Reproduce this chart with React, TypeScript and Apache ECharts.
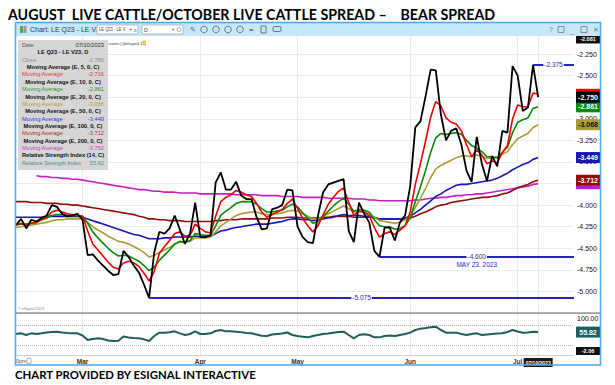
import React, { useEffect, useRef } from "react";
import * as echarts from "echarts";

const FONT = "'Liberation Sans', 'DejaVu Sans', Arial, sans-serif";
const MONTH_NAMES = ["Jan", "Feb", "Mar", "Apr", "May", "Jun", "Jul", "Aug", "Sep", "Oct", "Nov", "Dec"];

// trading days shown on the chart (month, days)
const TRADING_DAYS: [number, number[]][] = [
  [2, [9, 10, 13, 14, 15, 16, 17, 21, 22, 23, 24, 27, 28]],
  [3, [1, 2, 3, 6, 7, 8, 9, 10, 13, 14, 15, 16, 17, 20, 21, 22, 23, 24, 27, 28, 29, 30, 31]],
  [4, [3, 4, 5, 6, 10, 11, 12, 13, 14, 17, 18, 19, 20, 21, 24, 25, 26, 27, 28]],
  [5, [1, 2, 3, 4, 5, 8, 9, 10, 11, 12, 15, 16, 17, 18, 19, 22, 23, 24, 25, 26, 30, 31]],
  [6, [1, 2, 5, 6, 7, 8, 9, 12, 13, 14, 15, 16, 20, 21, 22, 23, 26, 27, 28, 29, 30]],
  [7, [3, 5, 6, 7, 10, 11, 12, 13, 14, 17, 18, 19]],
];
const CATEGORIES: string[] = TRADING_DAYS.flatMap(([m, days]) =>
  days.map((d) => `${String(m).padStart(2, "0")}/${String(d).padStart(2, "0")}/2023`)
);

const CLOSE = [
  -4.23, -4.16, -4.27, -4.17, -4.19, -4.15, -4.12, -4.0, -4.02, -4.1,
  -4.13, -4.12, -4.1, -4.17, -4.58, -4.57, -4.64, -4.7, -4.76, -4.81,
  -4.8, -4.53, -4.6, -4.7, -4.78, -4.92, -5.075, -4.55, -4.31, -4.33,
  -4.27, -4.12, -4.28, -4.45, -4.33, -3.97, -4.37, -4.37, -4.35, -3.74,
  -3.62, -3.82, -3.82, -3.73, -3.89, -3.93, -3.93, -4.14, -4.28, -4.27,
  -4.05, -4.03, -4.0, -3.82, -3.83, -4.25, -4.37, -4.43, -4.44, -4.12,
  -3.85, -3.76, -3.74, -3.72, -3.7, -4.3, -4.43, -3.97, -4.1, -4.2,
  -4.53, -4.6, -4.26, -4.26, -4.41, -4.2, -4.12, -3.78, -3.1, -3.03,
  -2.74, -2.43, -2.44, -2.95, -3.25, -3.14, -3.11, -3.3, -3.6, -3.73,
  -3.21, -3.52, -3.72, -3.43, -3.55, -3.14, -3.16, -2.39, -2.5, -2.91,
  -2.87, -2.375, -2.75,
];
const EMA5 = [
  -4.23, -4.21, -4.23, -4.21, -4.2, -4.17, -4.14, -4.08, -4.06, -4.08,
  -4.1, -4.11, -4.12, -4.13, -4.3, -4.45, -4.52, -4.59, -4.66, -4.72,
  -4.74, -4.67, -4.65, -4.67, -4.71, -4.79, -4.88, -4.77, -4.56, -4.48,
  -4.41, -4.33, -4.31, -4.36, -4.35, -4.22, -4.27, -4.31, -4.32, -4.13,
  -3.96, -3.91, -3.88, -3.83, -3.85, -3.88, -3.9, -3.98, -4.08, -4.14,
  -4.11, -4.08, -4.05, -3.98, -3.93, -4.04, -4.15, -4.24, -4.31, -4.24,
  -4.11, -3.99, -3.91, -3.84, -3.8, -3.97, -4.12, -4.07, -4.08, -4.12,
  -4.26, -4.37, -4.33, -4.31, -4.34, -4.29, -4.24, -4.08, -3.76, -3.52,
  -3.26, -2.98, -2.8, -2.85, -2.99, -3.04, -3.06, -3.14, -3.3, -3.44,
  -3.36, -3.42, -3.52, -3.49, -3.51, -3.39, -3.31, -3.0, -2.84, -2.86,
  -2.86, -2.7, -2.716,
];
const EMA10 = [
  -4.23, -4.22, -4.22, -4.21, -4.2, -4.17, -4.15, -4.12, -4.11, -4.11,
  -4.12, -4.12, -4.12, -4.13, -4.21, -4.31, -4.38, -4.44, -4.5, -4.55,
  -4.59, -4.58, -4.59, -4.62, -4.65, -4.7, -4.76, -4.72, -4.64, -4.58,
  -4.52, -4.45, -4.42, -4.43, -4.41, -4.33, -4.34, -4.35, -4.35, -4.24,
  -4.12, -4.07, -4.03, -3.98, -3.96, -3.96, -3.96, -3.99, -4.04, -4.08,
  -4.08, -4.07, -4.06, -4.02, -3.99, -4.02, -4.09, -4.15, -4.21, -4.19,
  -4.13, -4.07, -4.01, -3.96, -3.92, -3.99, -4.07, -4.05, -4.06, -4.08,
  -4.17, -4.24, -4.25, -4.25, -4.28, -4.27, -4.24, -4.15, -3.96, -3.79,
  -3.6, -3.39, -3.22, -3.17, -3.18, -3.17, -3.16, -3.18, -3.25, -3.31,
  -3.34, -3.38, -3.44, -3.44, -3.45, -3.39, -3.33, -3.16, -3.04, -3.01,
  -2.99, -2.88, -2.861,
];
const EMA20 = [
  -4.26, -4.25, -4.24, -4.23, -4.22, -4.21, -4.2, -4.18, -4.17, -4.17,
  -4.16, -4.16, -4.16, -4.16, -4.2, -4.25, -4.29, -4.32, -4.36, -4.39,
  -4.42, -4.43, -4.45, -4.48, -4.51, -4.55, -4.6, -4.58, -4.55, -4.52,
  -4.49, -4.45, -4.43, -4.43, -4.42, -4.38, -4.38, -4.38, -4.37, -4.31,
  -4.24, -4.2, -4.16, -4.12, -4.1, -4.09, -4.08, -4.08, -4.1, -4.11,
  -4.11, -4.1, -4.09, -4.07, -4.06, -4.07, -4.1, -4.13, -4.16, -4.16,
  -4.13, -4.1, -4.07, -4.04, -4.01, -4.04, -4.08, -4.08, -4.08, -4.1,
  -4.14, -4.18, -4.19, -4.2, -4.21, -4.2, -4.17, -4.13, -4.03, -3.92,
  -3.81, -3.68, -3.58, -3.54, -3.51, -3.48, -3.45, -3.43, -3.43, -3.44,
  -3.42, -3.43, -3.46, -3.45, -3.45, -3.41, -3.38, -3.3, -3.23, -3.2,
  -3.17, -3.1, -3.068,
];
const EMA50 = [
  -4.14, -4.14, -4.14, -4.14, -4.14, -4.14, -4.13, -4.13, -4.13, -4.13,
  -4.13, -4.13, -4.13, -4.14, -4.16, -4.18, -4.2, -4.22, -4.24, -4.26,
  -4.28, -4.3, -4.32, -4.34, -4.35, -4.37, -4.39, -4.39, -4.39, -4.38,
  -4.38, -4.37, -4.37, -4.37, -4.37, -4.36, -4.36, -4.36, -4.36, -4.33,
  -4.3, -4.29, -4.27, -4.26, -4.25, -4.24, -4.23, -4.22, -4.22, -4.22,
  -4.21, -4.2, -4.19, -4.17, -4.16, -4.16, -4.17, -4.17, -4.18, -4.17,
  -4.16, -4.15, -4.14, -4.12, -4.11, -4.12, -4.12, -4.12, -4.13, -4.13,
  -4.14, -4.16, -4.16, -4.16, -4.16, -4.16, -4.15, -4.13, -4.09, -4.05,
  -4.0, -3.95, -3.9, -3.87, -3.83, -3.8, -3.77, -3.76, -3.76, -3.75,
  -3.74, -3.73, -3.72, -3.71, -3.69, -3.66, -3.63, -3.59, -3.56, -3.53,
  -3.51, -3.47, -3.449,
];
const EMA100 = [
  -3.96, -3.96, -3.96, -3.97, -3.97, -3.97, -3.98, -3.98, -3.98, -3.99,
  -3.99, -4.0, -4.0, -4.01, -4.02, -4.03, -4.04, -4.05, -4.06, -4.07,
  -4.08, -4.09, -4.1, -4.11, -4.13, -4.14, -4.16, -4.16, -4.17, -4.17,
  -4.18, -4.18, -4.18, -4.19, -4.19, -4.19, -4.19, -4.19, -4.19, -4.18,
  -4.18, -4.17, -4.17, -4.17, -4.16, -4.16, -4.16, -4.16, -4.16, -4.16,
  -4.15, -4.15, -4.15, -4.14, -4.14, -4.14, -4.15, -4.15, -4.15, -4.15,
  -4.14, -4.14, -4.13, -4.13, -4.13, -4.13, -4.14, -4.14, -4.14, -4.14,
  -4.15, -4.16, -4.16, -4.16, -4.16, -4.16, -4.16, -4.15, -4.13, -4.1,
  -4.08, -4.05, -4.02, -4.0, -3.99, -3.97, -3.96, -3.95, -3.94, -3.93,
  -3.92, -3.91, -3.91, -3.9, -3.89, -3.87, -3.86, -3.83, -3.8, -3.78,
  -3.76, -3.73, -3.712,
];
const EMA200 = [
  null, null, null, null, -3.66, -3.67, -3.67, -3.68, -3.68, -3.69,
  -3.69, -3.7, -3.7, -3.71, -3.72, -3.73, -3.74, -3.75, -3.76, -3.77,
  -3.78, -3.79, -3.8, -3.81, -3.82, -3.82, -3.83, -3.84, -3.84, -3.85,
  -3.85, -3.85, -3.86, -3.86, -3.86, -3.86, -3.87, -3.87, -3.87, -3.87,
  -3.87, -3.87, -3.87, -3.88, -3.88, -3.88, -3.88, -3.88, -3.89, -3.89,
  -3.89, -3.89, -3.9, -3.9, -3.9, -3.9, -3.91, -3.91, -3.91, -3.91,
  -3.91, -3.92, -3.92, -3.92, -3.92, -3.92, -3.93, -3.93, -3.93, -3.94,
  -3.94, -3.95, -3.95, -3.95, -3.95, -3.95, -3.95, -3.95, -3.94, -3.94,
  -3.93, -3.92, -3.92, -3.91, -3.91, -3.9, -3.89, -3.89, -3.88, -3.88,
  -3.87, -3.87, -3.86, -3.85, -3.84, -3.83, -3.82, -3.81, -3.8, -3.79,
  -3.78, -3.76, -3.752,
];
const RSI14 = [
  52, 53.3, 50, 53.3, 52, 53.3, 55, 56, 56.7, 55,
  54, 53.3, 53.3, 49, 40, 42, 43.3, 42, 39, 38,
  38.5, 47, 45, 44, 43.3, 41.3, 38, 48, 54.7, 54.7,
  55.5, 57.3, 53.3, 50, 52, 57.3, 52, 52, 53.3, 58,
  60, 57.3, 57.3, 56.7, 55.5, 54, 53.3, 51, 48.5, 48,
  51, 52, 53, 55, 50, 48, 46.7, 45.3, 48, 50,
  52, 53, 54.7, 56, 56.7, 50, 43.3, 50, 51.3, 50,
  45.3, 45.3, 48, 49, 48, 50, 52, 54.7, 60, 62.7,
  64, 65.5, 66.7, 60, 54.7, 54.7, 54.7, 52, 50, 52,
  53.3, 50, 51, 52, 53, 53.5, 56, 60, 57, 54.7,
  55, 56.7, 55.82,
];

const PRICE_MIN = -5.25;
const PRICE_MAX = -2.0;
const PRICE_STEP = 0.25;
const TOP_MARKER = -2.081;
const RSI_LEVELS = [70, 30];
const RSI_TOP_LABEL = "100.00";
const RSI_BOTTOM_LABEL = "-2.06";
const ANNOTATIONS = [
  { from: "03/20/2023", value: -5.075, label: "-5.075", note: "" },
  { from: "05/23/2023", value: -4.6, label: "-4.600", note: "MAY 23, 2023" },
  { from: "07/07/2023", value: -2.375, label: "-2.375", note: "" },
];

const TITLE = "AUGUST  LIVE CATTLE/OCTOBER LIVE CATTLE SPREAD \u2013    BEAR SPREAD";
const FOOTER = "CHART PROVIDED BY ESIGNAL INTERACTIVE";
const HEADER_TEXT = "Chart: LE Q23 - LE V23, D";
const STATUS_TEXT = "namic) [delayed 10]";

const C = {
  close: "#000000",
  ema5: "#f00000",
  ema10: "#078a07",
  ema20: "#aa9b35",
  ema50: "#1616b8",
  ema100: "#8e0c0c",
  ema200: "#c41fc4",
  rsi: "#1e5e5b",
  annot: "#2424bc",
};

const MAS = [
  { name: "EMA200", data: EMA200, color: C.ema200, text: "#fff" },
  { name: "EMA100", data: EMA100, color: C.ema100, text: "#fff" },
  { name: "EMA50", data: EMA50, color: C.ema50, text: "#fff" },
  { name: "EMA20", data: EMA20, color: C.ema20, text: "#111" },
  { name: "EMA10", data: EMA10, color: C.ema10, text: "#fff" },
  { name: "EMA5", data: EMA5, color: C.ema5, text: "#fff" },
];

const LEGEND_ROWS: { head?: string; left?: string; right?: string; color?: string; rightColor?: string }[] = [
  { left: "Date", right: "07/10/2023", color: "#555", rightColor: "#333" },
  { head: "LE Q23 - LE V23, D" },
  { left: "Close", right: "-2.750", color: "#8a8a8a" },
  { head: "Moving Average (E, 5, 0, C)" },
  { left: "Moving Average", right: "-2.716", color: "#e23535" },
  { head: "Moving Average (E, 10, 0, C)" },
  { left: "Moving Average", right: "-2.861", color: "#2e982e" },
  { head: "Moving Average (E, 20, 0, C)" },
  { left: "Moving Average", right: "-3.068", color: "#b0a445" },
  { head: "Moving Average (E, 50, 0, C)" },
  { left: "Moving Average", right: "-3.449", color: "#3838d0" },
  { head: "Moving Average (E, 100, 0, C)" },
  { left: "Moving Average", right: "-3.712", color: "#b02a2a" },
  { head: "Moving Average (E, 200, 0, C)" },
  { left: "Moving Average", right: "-3.752", color: "#c63cc6" },
  { head: "Relative Strength Index (14, C)" },
  { left: "Relative Strength Index", right: "55.82", color: "#4a8e8e" },
];

const LAST = CATEGORIES.length - 1;
const LAST_DATA = CLOSE.length - 1;
const MONTH_STARTS = new Set<number>();
CATEGORIES.forEach((c, i) => {
  if (i > 0 && c.slice(0, 2) !== CATEGORIES[i - 1].slice(0, 2)) MONTH_STARTS.add(i);
});
const isGridIdx = (i: number) => MONTH_STARTS.has(i) || i === LAST_DATA;

function valueBox(value: number, bg: string, fg: string, text: string, size = 7, h = 11) {
  return {
    coord: [CATEGORIES[LAST], value],
    symbol: "rect",
    symbolSize: [24, h],
    symbolOffset: [14, 0],
    itemStyle: { color: bg },
    label: {
      show: true,
      position: "inside",
      formatter: text,
      color: fg,
      fontSize: size,
      fontWeight: "bold",
      fontFamily: FONT,
    },
  };
}

function txt(x: number, y: number, text: string, o: any = {}) {
  return {
    type: "text",
    x,
    y,
    z: o.z ?? 50,
    silent: true,
    scaleX: o.scaleX ?? 1,
    style: {
      text,
      fontSize: o.size ?? 7,
      fontWeight: o.weight ?? "normal",
      fontFamily: o.family ?? FONT,
      fill: o.fill ?? "#222",
      align: o.align ?? "left",
      verticalAlign: "middle",
    },
  };
}

function buildGraphics() {
  const g: any[] = [];
  g.push(txt(8, 14, TITLE, { size: 15, weight: "bold", family: "Lato, 'Open Sans', sans-serif", fill: "#000", scaleX: 0.948 }));
  g.push(txt(15, 374, FOOTER, { size: 12, weight: "bold", family: "Lato, 'Open Sans', sans-serif", fill: "#000", scaleX: 0.95 }));
  // window frame and header
  g.push({ type: "rect", z: 49, silent: true, shape: { x: 16, y: 23, width: 584, height: 13 }, style: { fill: "#c4e7fa" } });
  g.push({ type: "rect", z: 51, silent: true, shape: { x: 15.5, y: 22.5, width: 585, height: 342.5 }, style: { fill: "none", stroke: "#47a9ee", lineWidth: 1.5 } });
  g.push({ type: "rect", z: 50, silent: true, shape: { x: 20, y: 26, width: 3, height: 7 }, style: { fill: "#58a848" } });
  g.push({ type: "rect", z: 50, silent: true, shape: { x: 23.5, y: 26, width: 3, height: 7 }, style: { fill: "#9a9a9a" } });
  g.push(txt(30, 29.5, HEADER_TEXT, { size: 7, fill: "#3a3a3a" }));
  g.push({ type: "rect", z: 50, silent: true, shape: { x: 97, y: 25, width: 41, height: 9 }, style: { fill: "#fff", stroke: "#9a9a9a", lineWidth: 0.6 } });
  g.push(txt(99, 29.5, "LE Q23 - LE V", { size: 5, fill: "#444", scaleX: 0.82 }));
  g.push(txt(129.5, 29.5, "\u25BE", { size: 4.5, fill: "#666" }));
  g.push(txt(134, 29.5, "\u2261", { size: 5, fill: "#666" }));
  g.push({ type: "rect", z: 50, silent: true, shape: { x: 142, y: 25, width: 41, height: 9 }, style: { fill: "#fff", stroke: "#9a9a9a", lineWidth: 0.6 } });
  g.push(txt(144, 29.5, "D", { size: 5.5, fill: "#444" }));
  g.push(txt(172, 29.5, "\u25BE", { size: 4.5, fill: "#666" }));
  g.push({ type: "circle", z: 50, silent: true, shape: { cx: 179, cy: 29.5, r: 2 }, style: { fill: "none", stroke: "#777", lineWidth: 0.6 } });
  g.push(txt(190, 29.5, "\u270E", { size: 7, fill: "#555" }));
  [204, 216, 228, 240].forEach((cx) =>
    g.push({ type: "circle", z: 50, silent: true, shape: { cx, cy: 29.5, r: 3.3 }, style: { fill: "none", stroke: "#555", lineWidth: 0.8 } })
  );
  g.push(txt(249, 29.5, "\u2712", { size: 6, fill: "#555" }));
  g.push({ type: "rect", z: 50, silent: true, shape: { x: 261, y: 26, width: 5, height: 7 }, style: { fill: "none", stroke: "#555", lineWidth: 0.8 } });
  g.push({ type: "rect", z: 50, silent: true, shape: { x: 273, y: 26.5, width: 8, height: 5, r: 1.5 }, style: { fill: "none", stroke: "#555", lineWidth: 0.8 } });
  g.push(txt(549, 29.5, "?", { size: 7, fill: "#777" }));
  g.push({ type: "rect", z: 50, silent: true, shape: { x: 558, y: 26.5, width: 6, height: 6 }, style: { fill: "none", stroke: "#777", lineWidth: 0.8 } });
  g.push(txt(570, 30, "_", { size: 7, fill: "#777" }));
  g.push({ type: "rect", z: 50, silent: true, shape: { x: 581, y: 26.5, width: 6, height: 6 }, style: { fill: "none", stroke: "#777", lineWidth: 0.8 } });
  g.push(txt(593, 29.5, "\u2715", { size: 7, fill: "#777" }));
  // status line (the part not hidden by the legend)
  g.push(txt(108.5, 43, STATUS_TEXT, { size: 4.3, fill: "#444" }));
  g.push({ type: "circle", z: 50, silent: true, shape: { cx: 144, cy: 42.5, r: 2 }, style: { fill: "#f3c93a" } });
  // legend panel
  g.push({ type: "rect", z: 52, silent: true, shape: { x: 18, y: 40, width: 90, height: 130 }, style: { fill: "rgba(210,210,210,0.92)" } });
  LEGEND_ROWS.forEach((r, i) => {
    const y = 45 + i * 7.36;
    if (r.head) {
      g.push(txt(63, y, r.head, { size: 5.7, weight: "bold", fill: "#111", align: "center", z: 53 }));
    } else {
      g.push(txt(22, y, r.left!, { size: 5.7, fill: r.color, z: 53 }));
      g.push(txt(104, y, r.right!, { size: 5.7, fill: r.rightColor ?? r.color, align: "right", z: 53 }));
    }
  });
  // pane separator
  g.push({ type: "rect", z: 20, silent: true, shape: { x: 16, y: 312.2, width: 584, height: 1.8 }, style: { fill: "#9c9c9c" } });
  g.push(txt(18, 308.5, "\u00A9 eSignal 2023", { size: 3.8, fill: "#888" }));
  // RSI side labels
  g.push(txt(577, 318, RSI_TOP_LABEL, { size: 7, fill: "#111" }));
  g.push({ type: "rect", z: 50, silent: true, shape: { x: 576, y: 347, width: 24, height: 8 }, style: { fill: "#111" } });
  g.push(txt(588, 351, RSI_BOTTOM_LABEL, { size: 5.5, fill: "#fff", align: "center", weight: "bold" }));
  g.push({ type: "line", z: 50, silent: true, shape: { x1: 600.5, y1: 347, x2: 600.5, y2: 365 }, style: { stroke: "#000", lineWidth: 1 } });
  g.push(txt(16, 361, "0pm", { size: 5.5, fill: "#555" }));
  g.push({ type: "rect", z: 50, silent: true, shape: { x: 27, y: 358.5, width: 4, height: 5 }, style: { fill: "none", stroke: "#888", lineWidth: 0.6 } });
  return g;
}

function buildOption(): any {
  const maSeries = MAS.map((m, i) => ({
    type: "line",
    name: m.name,
    xAxisIndex: 0,
    yAxisIndex: 0,
    data: m.data,
    symbol: "none",
    silent: true,
    lineStyle: { color: m.color, width: 1.6 },
    itemStyle: { color: m.color },
    markPoint: {
      silent: true,
      z: 5 + i,
      data: [valueBox(m.data[LAST_DATA] as number, m.color, m.text, (m.data[LAST_DATA] as number).toFixed(3))],
    },
  }));

  const annotLines = ANNOTATIONS.map((a) => [
    {
      coord: [a.from, a.value],
      lineStyle: { color: C.annot, width: 2, type: "solid" },
      label: {
        show: true,
        position: "insideMiddle",
        formatter: a.label,
        color: C.annot,
        fontSize: 6.5,
        fontFamily: FONT,
        backgroundColor: "#ffffff",
        padding: [0, 1],
      },
    },
    { coord: [CATEGORIES[LAST], a.value] },
  ]);
  const notes = ANNOTATIONS.filter((a) => a.note).map((a) => {
    const fi = CATEGORIES.indexOf(a.from);
    return {
      coord: [CATEGORIES[Math.round((fi + LAST) / 2)], a.value],
      symbol: "rect",
      symbolSize: 1,
      itemStyle: { color: "rgba(0,0,0,0)" },
      label: {
        show: true,
        position: "inside",
        offset: [0, 8],
        formatter: a.note,
        color: C.annot,
        fontSize: 6.5,
        fontFamily: FONT,
      },
    };
  });

  const closeSeries = {
    type: "line",
    name: "Close",
    xAxisIndex: 0,
    yAxisIndex: 0,
    data: CLOSE,
    symbol: "none",
    silent: true,
    lineStyle: { color: C.close, width: 1.8 },
    itemStyle: { color: C.close },
    markLine: { silent: true, symbol: ["none", "none"], animation: false, data: annotLines },
    markPoint: {
      silent: true,
      z: 15,
      data: [
        valueBox(TOP_MARKER, "#111", "#fff", TOP_MARKER.toFixed(3), 5.5, 8),
        valueBox(CLOSE[LAST_DATA], "#000", "#fff", CLOSE[LAST_DATA].toFixed(3)),
        ...notes,
      ],
    },
  };

  const rsiSeries = {
    type: "line",
    name: "RSI",
    xAxisIndex: 1,
    yAxisIndex: 1,
    data: RSI14,
    symbol: "none",
    silent: true,
    lineStyle: { color: C.rsi, width: 2 },
    itemStyle: { color: C.rsi },
    markLine: {
      silent: true,
      symbol: ["none", "none"],
      label: { show: false },
      lineStyle: { color: "#b4b4b4", width: 1, type: "dotted" },
      data: RSI_LEVELS.map((v) => ({ yAxis: v })),
    },
    markPoint: {
      silent: true,
      z: 15,
      data: [valueBox(RSI14[LAST_DATA], "#1f5f5f", "#fff", RSI14[LAST_DATA].toFixed(2))],
    },
  };

  const splitX = {
    show: true,
    interval: (i: number) => isGridIdx(i),
    lineStyle: { color: "#ebebeb", width: 1 },
  };

  return {
    animation: false,
    backgroundColor: "#ffffff",
    grid: [
      { left: 16, right: 41, top: 32.5, height: 280.5 },
      { left: 16, right: 41, top: 313, height: 42 },
    ],
    xAxis: [
      {
        type: "category",
        gridIndex: 0,
        data: CATEGORIES,
        boundaryGap: false,
        axisLine: { show: false },
        axisTick: { show: false },
        axisLabel: { show: false },
        splitLine: splitX,
      },
      {
        type: "category",
        gridIndex: 1,
        data: CATEGORIES,
        boundaryGap: false,
        axisLine: { show: true, lineStyle: { color: "#d0d0d0", width: 1 } },
        axisTick: { show: false },
        splitLine: splitX,
        axisLabel: {
          show: true,
          interval: (i: number) => isGridIdx(i),
          margin: 3,
          fontSize: 6.5,
          fontWeight: "bold",
          color: "#333",
          fontFamily: FONT,
          formatter: (v: string, i: number) =>
            i === LAST_DATA ? `{d|${v}}` : MONTH_NAMES[parseInt(v.slice(0, 2), 10) - 1],
          rich: {
            d: { backgroundColor: "#1a1a1a", color: "#fff", fontSize: 5, padding: [2, 2], fontFamily: FONT },
          },
        },
      },
    ],
    yAxis: [
      {
        type: "value",
        gridIndex: 0,
        position: "right",
        min: PRICE_MIN,
        max: PRICE_MAX,
        interval: PRICE_STEP,
        axisLine: { show: false },
        axisTick: { show: false },
        axisLabel: {
          margin: 3,
          fontSize: 7,
          color: "#111",
          fontFamily: FONT,
          formatter: (v: number) => (v <= PRICE_MIN + 0.01 || v >= PRICE_MAX - 0.01 ? "" : v.toFixed(3)),
        },
        splitLine: { lineStyle: { color: "#ebebeb", width: 1 } },
      },
      {
        type: "value",
        gridIndex: 1,
        position: "right",
        min: 10,
        max: 94,
        axisLine: { show: false },
        axisTick: { show: false },
        axisLabel: { show: false },
        splitLine: { show: false },
      },
    ],
    series: [...maSeries, closeSeries, rsiSeries],
    graphic: buildGraphics(),
  };
}

export default function App() {
  const ref = useRef<HTMLDivElement>(null);
  useEffect(() => {
    document.body.style.margin = "0";
    if (!ref.current) return;
    const chart = echarts.init(ref.current, undefined, { renderer: "svg" });
    chart.setOption(buildOption());
    return () => chart.dispose();
  }, []);
  return <div ref={ref} style={{ width: 615, height: 385, position: "fixed", left: 0, top: 0, background: "#fff" }} />;
}
